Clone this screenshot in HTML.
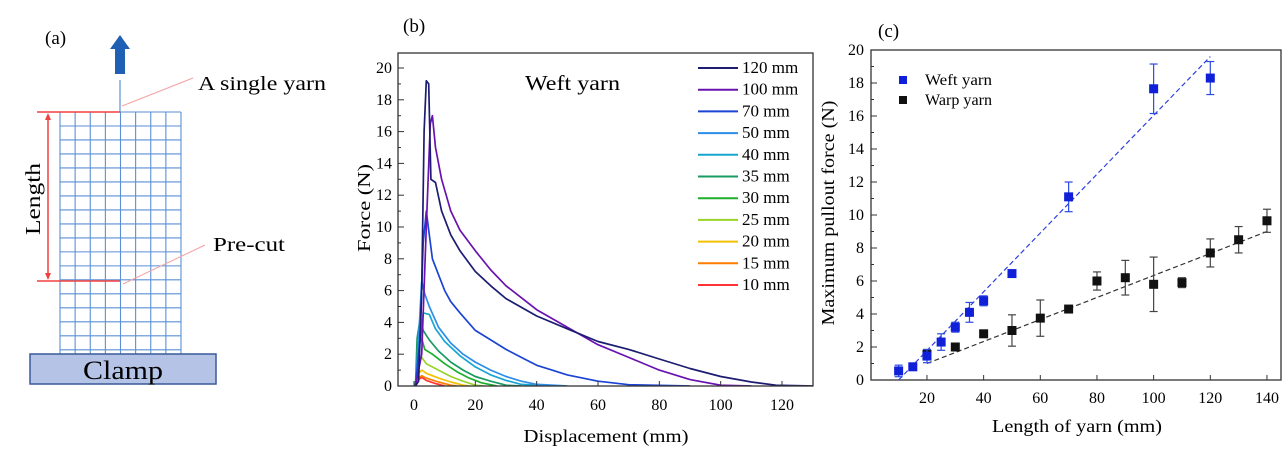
<!DOCTYPE html>
<html><head><meta charset="utf-8"><style>
html,body{margin:0;padding:0;background:#fff;}
svg{display:block;font-family:"Liberation Serif",serif;}
</style></head><body>
<svg id="fig" width="1288" height="466" viewBox="0 0 1288 466">
<g id="pa">
<text x="45" y="44" font-size="19">(a)</text>
<polygon points="120,35 130,49 125,49 125,74 115,74 115,49 110,49" fill="#1f5fb4"/>
<line x1="120" y1="80" x2="120" y2="112" stroke="#5b8fd6" stroke-width="1.2"/>
<g id="grid"></g>
<rect x="30" y="354" width="186" height="30" fill="#b4c3e6" stroke="#3a5a9a" stroke-width="1.5"/>
<text x="123" y="379" font-size="26" text-anchor="middle" textLength="80" lengthAdjust="spacingAndGlyphs">Clamp</text>
<line x1="37" y1="112" x2="120" y2="112" stroke="#f04040" stroke-width="1.5"/>
<line x1="37" y1="281" x2="120" y2="281" stroke="#f04040" stroke-width="1.5"/>
<line x1="48" y1="116" x2="48" y2="277" stroke="#f04040" stroke-width="1.5"/>
<polygon points="48,113 45,120 51,120" fill="#f04040"/><polygon points="48,280 45,273 51,273" fill="#f04040"/>
<text transform="translate(40,199) rotate(-90)" font-size="21" text-anchor="middle" textLength="72" lengthAdjust="spacingAndGlyphs">Length</text>
<line x1="122" y1="106" x2="193" y2="78" stroke="#f4a0a0" stroke-width="1"/>
<text x="198" y="90" font-size="20" textLength="128" lengthAdjust="spacingAndGlyphs">A single yarn</text>
<line x1="123" y1="284" x2="205" y2="245" stroke="#f4a0a0" stroke-width="1"/>
<text x="213" y="251" font-size="20" textLength="72" lengthAdjust="spacingAndGlyphs">Pre-cut</text>
</g>
<g id="pb">
<text x="403" y="32" font-size="19">(b)</text>
<text x="525" y="90" font-size="21" textLength="95" lengthAdjust="spacingAndGlyphs">Weft yarn</text>
<text transform="translate(370,208) rotate(-90)" font-size="18" text-anchor="middle" textLength="88" lengthAdjust="spacingAndGlyphs">Force (N)</text>
<text x="606" y="442" font-size="18" text-anchor="middle" textLength="165" lengthAdjust="spacingAndGlyphs">Displacement (mm)</text>
</g>
<g id="pc">
<text x="878" y="37" font-size="19">(c)</text>
<text transform="translate(834,213) rotate(-90)" font-size="18" text-anchor="middle" textLength="225" lengthAdjust="spacingAndGlyphs">Maximum pullout force (N)</text>
<text x="1077" y="432" font-size="18" text-anchor="middle" textLength="170" lengthAdjust="spacingAndGlyphs">Length of yarn (mm)</text>
</g>
</svg>
<script>
// ---- Panel (b) data ----
const bLabels = ["120 mm","100 mm","70 mm","50 mm","40 mm","35 mm","30 mm","25 mm","20 mm","15 mm","10 mm"];
const bColors = ["#1c1c72","#6a12b0","#1b44d4","#2b8ee8","#17a6cf","#199a62","#1fae2c","#9bd22c","#f2c200","#ff7c00","#ff3434"];
const bX = [
 [0.5,1.5,2.5,3.3,4,4.8,5.5,7,9,12,15,20,25,30,40,50,60,70,80,90,100,110,118,130],
 [0.5,2.5,4,5.3,6,7,9,12,15,20,25,30,40,50,60,70,80,90,100,110],
 [0.5,2,3,4,5,6,8,10,12,15,20,25,30,35,40,45,50,60,70,90],
 [0.5,1.5,2.5,3.5,5,8,12,16,20,25,30,35,40,50],
 [0.5,1.5,3,5,7,10,15,20,25,30,35,45],
 [0.5,1,2,3,5,8,12,16,20,25,30,35],
 [0.5,1.5,2.5,3.5,6,10,14,18,22,27],
 [0.5,1.5,2.5,4,8,12,16,20,23],
 [0.5,1.5,2.5,4,8,12,16,18],
 [0.5,1.5,2.5,4,8,12,14],
 [0.5,1.5,2.5,4,7,10]];
const bY = [
 [0,0.3,6,16,19.2,19,13,12.8,11,9.5,8.5,7.2,6.3,5.5,4.4,3.6,2.8,2.3,1.7,1.1,0.6,0.25,0.05,0],
 [0,2,10,16.5,17,15,13,11,9.8,8.5,7.3,6.3,4.8,3.7,2.6,1.8,1.0,0.4,0.05,0],
 [0,3,9,11,9.5,8,7,6,5.3,4.6,3.5,2.9,2.3,1.8,1.3,1.0,0.7,0.3,0.08,0],
 [0,3,6.6,5.8,5,3.7,2.7,2.0,1.5,1.0,0.6,0.3,0.1,0],
 [0,2,4.6,4.5,3.6,2.8,1.9,1.2,0.7,0.35,0.1,0],
 [0,3,4.2,3.5,2.9,2.2,1.5,1.0,0.6,0.3,0.05,0],
 [0,2.5,3,2.3,2.0,1.4,0.9,0.5,0.2,0],
 [0,1.5,1.8,1.4,1.0,0.6,0.3,0.05,0],
 [0,0.8,1.0,0.8,0.5,0.25,0.05,0],
 [0,0.5,0.65,0.5,0.25,0.05,0],
 [0,0.4,0.55,0.35,0.15,0]];
const bXTicks = [0,20,40,60,80,100,120];
const bYTicks = [0,2,4,6,8,10,12,14,16,18,20];
// ---- Panel (c) data ----
const weftX = [10,15,20,25,30,35,40,50,70,100,120];
const weftY = [0.55,0.8,1.45,2.3,3.2,4.1,4.8,6.45,11.1,17.65,18.3];
const weftErr = [0.35,0.2,0.4,0.5,0.3,0.6,0.3,0,0.9,1.5,1.0];
const warpX = [20,30,40,50,60,70,80,90,100,110,120,130,140];
const warpY = [1.55,2.0,2.8,3.0,3.75,4.3,6.0,6.2,5.8,5.9,7.7,8.5,9.65];
const warpErr = [0.3,0.1,0.2,0.95,1.1,0.2,0.55,1.05,1.65,0.3,0.85,0.8,0.7];
const weftFit = [[10,0],[120,19.6]];
const warpFit = [[20,1.0],[140,9.0]];
const cXTicks = [20,40,60,80,100,120,140];
const cYTicks = [0,2,4,6,8,10,12,14,16,18,20];

const NS="http://www.w3.org/2000/svg";
function mk(tag,attrs,parent){const e=document.createElementNS(NS,tag);for(const k in attrs)e.setAttribute(k,attrs[k]);parent.appendChild(e);return e;}

// Panel a grid
const grid=document.getElementById('grid');
for(let i=0;i<=8;i++){const x=60+i*(121/8);const l=mk('line',{x1:x,y1:112,x2:x,y2:354,stroke:'#5b8fd6','stroke-width':1.1},grid);

}
for(let j=0;j<=17;j++){const y=112+j*(242/17.3);const l=mk('line',{x1:60,y1:y,x2:181,y2:y,stroke:'#5b8fd6','stroke-width':1.1},grid);

}

// Panel b
const pb=document.getElementById('pb');
const bx=v=>414+v*(368/120), by=v=>386-v*(318/20);
const cp=mk('clipPath',{id:'cb'},pb);mk('rect',{x:398,y:53,width:415,height:333},cp);
for(let s=bLabels.length-1;s>=0;s--){
 const d=bX[s].map((v,i)=>(i?'L':'M')+bx(v).toFixed(1)+','+by(bY[s][i]).toFixed(1)).join(' ');
 const p=mk('path',{d:d,fill:'none',stroke:bColors[s],'stroke-width':1.7,'stroke-linejoin':'round','clip-path':'url(#cb)'},pb);
 
 
}
const fb=mk('rect',{x:398,y:53,width:415,height:333,fill:'none',stroke:'#333','stroke-width':1.3},pb);


bYTicks.forEach(v=>{const y=by(v);mk('line',{x1:398,y1:y,x2:404,y2:y,stroke:'#333'},pb);
 if(v<20)mk('line',{x1:398,y1:by(v+1),x2:401,y2:by(v+1),stroke:'#333'},pb);
 const t=mk('text',{x:392,y:y+5,'font-size':16,'text-anchor':'end'},pb);t.textContent=v;
 
 });
bXTicks.forEach(v=>{const x=bx(v);mk('line',{x1:x,y1:386,x2:x,y2:381,stroke:'#333'},pb);
 const t=mk('text',{x:x,y:410,'font-size':16,'text-anchor':'middle'},pb);t.textContent=v;
 
 });
bLabels.forEach((lab,i)=>{const y=68+i*21.7;
 const l=mk('line',{x1:698,y1:y,x2:738,y2:y,stroke:bColors[i],'stroke-width':2},pb);
 
 
 const t=mk('text',{x:742,y:y+5,'font-size':17},pb);t.textContent=lab;
 
 });

// Panel c
const pc=document.getElementById('pc');
const cx=v=>870.3+v*(340/120), cy=v=>380-v*(330/20);
const fc=mk('rect',{x:871,y:50,width:410,height:330,fill:'none',stroke:'#333','stroke-width':1.3},pc);


cYTicks.forEach(v=>{const y=cy(v);mk('line',{x1:871,y1:y,x2:877,y2:y,stroke:'#333'},pc);
 if(v<20)mk('line',{x1:871,y1:cy(v+1),x2:874,y2:cy(v+1),stroke:'#333'},pc);
 const t=mk('text',{x:864,y:y+5,'font-size':16,'text-anchor':'end'},pc);t.textContent=v;
 
 });
cXTicks.forEach(v=>{const x=cx(v);mk('line',{x1:x,y1:380,x2:x,y2:375,stroke:'#333'},pc);
 const t=mk('text',{x:x,y:403,'font-size':16,'text-anchor':'middle'},pc);t.textContent=v;
 
 });
function fit(pts,col,name){const l=mk('line',{x1:cx(pts[0][0]),y1:cy(pts[0][1]),x2:cx(pts[1][0]),y2:cy(pts[1][1]),stroke:col,'stroke-width':1.2,'stroke-dasharray':'5,3'},pc);
 
 }
fit(weftFit,'#2d3fe0','weft-fit-line');fit(warpFit,'#333','warp-fit-line');
function series(xs,ys,es,col,ecol,name){xs.forEach((x,i)=>{const X=cx(x),Y=cy(ys[i]);
 if(es[i]>0){const t=cy(ys[i]+es[i]),b=cy(ys[i]-es[i]);
  mk('line',{x1:X,y1:t,x2:X,y2:b,stroke:ecol,'stroke-width':1.2},pc);
  mk('line',{x1:X-4,y1:t,x2:X+4,y2:t,stroke:ecol,'stroke-width':1.2},pc);
  mk('line',{x1:X-4,y1:b,x2:X+4,y2:b,stroke:ecol,'stroke-width':1.2},pc);}
 const r=mk('rect',{x:X-4.5,y:Y-4.5,width:9,height:9,fill:col},pc);
 
 });}
series(warpX,warpY,warpErr,'#111','#444','warp-point');
series(weftX,weftY,weftErr,'#1020d8','#2a4be0','weft-point');
[['Weft yarn','#1020d8',80],['Warp yarn','#111',100]].forEach(e=>{
 const r=mk('rect',{x:899,y:e[2]-4,width:8,height:8,fill:e[1]},pc);
 
 
 const t=mk('text',{x:925,y:e[2]+5,'font-size':16,textLength:67,lengthAdjust:'spacingAndGlyphs'},pc);t.textContent=e[0];
 
 });
</script>
</body></html>
